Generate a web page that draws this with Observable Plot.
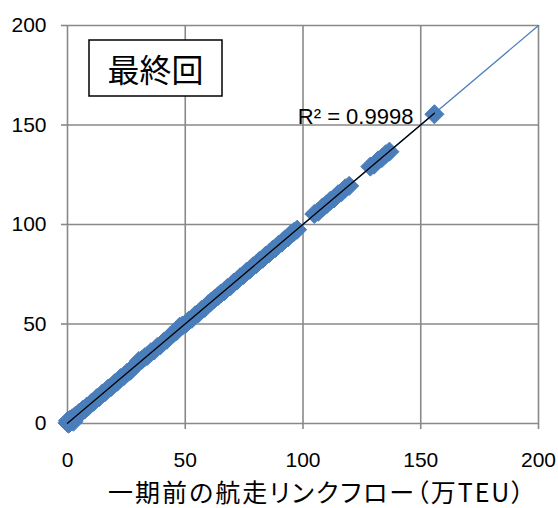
<!DOCTYPE html>
<html>
<head>
<meta charset="utf-8">
<script src="https://cdn.jsdelivr.net/npm/d3@7"></script>
<script src="https://cdn.jsdelivr.net/npm/@observablehq/plot@0.6"></script>
<style>
  body { margin: 0; background: #fff; }
  #chart svg { display: block; overflow: hidden; }
</style>
</head>
<body>
<div id="chart"></div>
<script>
// Link flow on each route: previous period (x) vs. final iteration (y), 万TEU
const prevFlow = [
  0, 0.2, 0.5, 0.8, 1.0, 1.5, 2.0, 2.5, 2.6, 3.3, 4.0, 4.8, 5.6, 6.5, 7.3, 8.2, 9.0, 10.1,
  11.2, 12.4, 13.5, 14.8, 16.0, 17.3, 18.6, 20.0, 21.2, 22.5, 24.0, 25.4, 26.7, 28.0,
  29.2, 30.3, 31.5, 32.8, 34.0, 35.4, 36.8, 38.1, 39.5, 40.8, 42.2, 43.5, 45.0, 46.3,
  47.6, 48.8, 50.1, 51.5, 52.8, 54.2, 55.6, 57.0, 58.3, 59.7, 61.0, 62.4, 63.8, 65.1,
  66.5, 67.9, 69.2, 70.6, 72.0, 73.3, 74.7, 76.0, 77.4, 78.8, 80.1, 81.5, 82.9, 84.2,
  85.6, 87.0, 88.3, 89.7, 91.0, 92.3, 93.6, 95.0, 96.2, 97.5,
  104.8, 106.5, 108.3, 110.0, 111.6, 113.2, 114.9, 116.4, 118.0, 119.6,
  128.6, 130.2, 131.9, 133.5, 135.1, 136.7,
  155.8
];
const finalFlow = [
  0.3, 1.4, 0, 0.2, 1.8, 1.0, 2.6, 0.9, 2.1, 3.8, 3.6, 5.2, 5.3, 6.9, 7.0, 8.5, 8.8, 10.3,
  11.0, 12.7, 13.3, 15.1, 15.8, 17.6, 18.4, 20.2, 21.0, 22.8, 23.9, 25.6, 26.5, 28.3,
  29.6, 31.4, 31.9, 33.3, 34.1, 35.8, 36.7, 38.4, 39.4, 41.0, 42.1, 43.8, 45.3, 46.4,
  48.6, 49.2, 50.0, 51.7, 52.6, 54.4, 55.4, 57.2, 58.1, 59.9, 61.2, 62.6, 63.9, 65.3,
  66.4, 68.1, 69.0, 70.8, 71.9, 73.5, 74.6, 76.2, 77.3, 79.0, 80.0, 81.7, 82.8, 84.4,
  85.5, 87.2, 88.2, 89.9, 90.9, 92.5, 93.5, 95.3, 96.3, 97.4,
  105.3, 106.4, 108.6, 110.1, 111.9, 113.1, 115.2, 116.3, 118.2, 119.4,
  129.1, 130.1, 132.2, 133.4, 135.3, 136.6,
  155.4
];
const tickValues = [0, 50, 100, 150, 200];
const diagonal = [0, 200];          // y = x reference line
const rSquared = 0.9998;
const panelTitle = "最終回";
const xTitle = "一期前の航走リンクフロー（万TEU）";

const points = prevFlow.map((x, i) => ({x, y: finalFlow[i]}));
const last = points.reduce((a, b) => (b.x > a.x ? b : a));

const gridColor = "#898989";
const blue = "#4a7ebb";

const chart = Plot.plot({
  width: 558,
  height: 508,
  marginLeft: 67,
  marginRight: 20,
  marginTop: 25,
  marginBottom: 85,
  style: {
    fontFamily: "'Liberation Sans', Arial, sans-serif",
    fontSize: "21px",
    color: "#000",
    background: "#fff"
  },
  x: {domain: [0, 200]},
  y: {domain: [0, 200]},
  marks: [
    Plot.gridX(tickValues, {stroke: gridColor, strokeOpacity: 1, strokeWidth: 1.6}),
    Plot.gridY(tickValues, {stroke: gridColor, strokeOpacity: 1, strokeWidth: 1.6}),
    Plot.axisX(tickValues, {
      tickSize: 6, tickPadding: 23, stroke: gridColor, strokeWidth: 1.6,
      fill: "#000", label: null, fontSize: 21
    }),
    Plot.axisY(tickValues, {
      tickSize: 6, tickPadding: 15, stroke: gridColor, strokeWidth: 1.6,
      fill: "#000", label: null, fontSize: 21
    }),
    Plot.line(diagonal, {x: (d) => d, y: (d) => d, stroke: blue, strokeWidth: 1.3}),
    Plot.dot(points, {
      x: "x", y: "y", symbol: "diamond2", r: 8.6,
      fill: blue, stroke: blue, strokeWidth: 1
    }),
    Plot.linearRegressionY(points, {x: "x", y: "y", ci: 0, stroke: "#000", strokeWidth: 1.3}),
    Plot.text([last], {
      x: "x", y: "y", text: () => `R² = ${rSquared}`,
      textAnchor: "end", lineAnchor: "bottom", dx: -21, dy: 10,
      fontSize: 22, fill: "#000"
    }),
    Plot.text([xTitle], {
      frameAnchor: "bottom", lineAnchor: "bottom", dx: 14, dy: 78,
      fontSize: 25, fontFamily: "'Noto Sans CJK JP', sans-serif", fill: "#000",
      className: "x-title"
    })
  ]
});

// Panel label box in the upper-left corner of the plot
const svg = d3.select(chart);
const box = svg.append("g");
box.append("rect")
  .attr("x", 89).attr("y", 40).attr("width", 133).attr("height", 56)
  .attr("fill", "#fff").attr("stroke", "#000").attr("stroke-width", 1.5);
box.append("text")
  .attr("x", 155.5).attr("y", 68)
  .attr("text-anchor", "middle").attr("dominant-baseline", "central")
  .attr("font-family", "'Noto Sans CJK JP', sans-serif")
  .attr("font-size", 32).attr("fill", "#000")
  .text(panelTitle);

svg.selectAll(".x-title text")
  .style("font-feature-settings", "'palt'")
  .style("letter-spacing", "2px");

document.getElementById("chart").appendChild(chart);
</script>
</body>
</html>
